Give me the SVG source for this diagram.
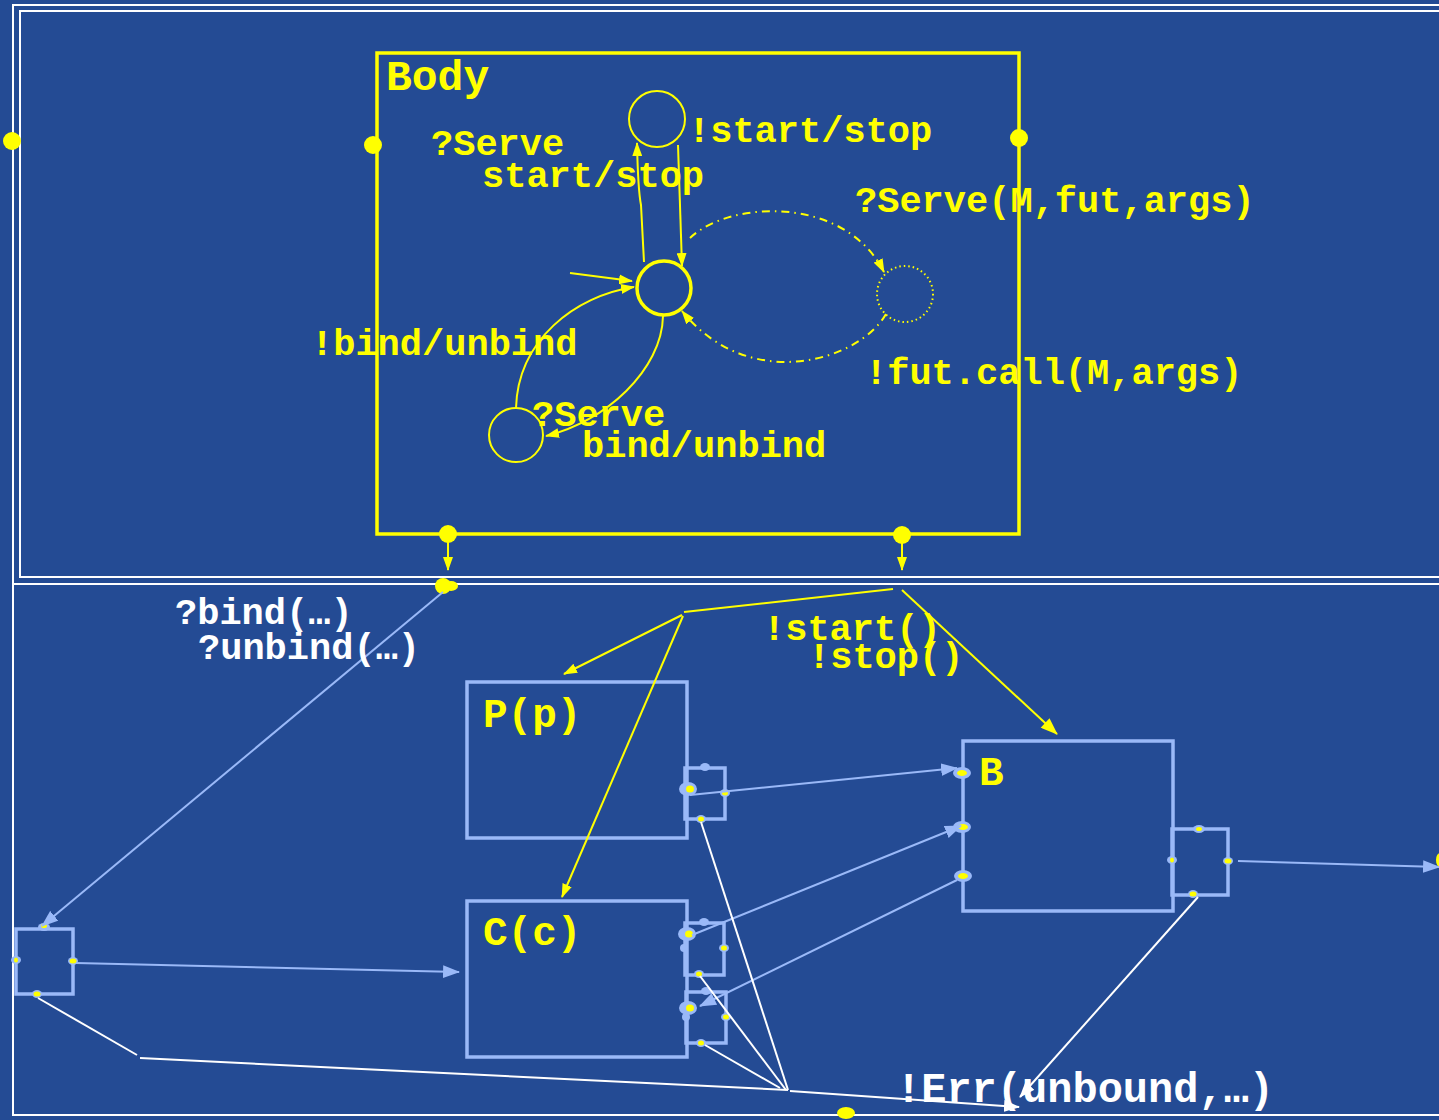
<svg xmlns="http://www.w3.org/2000/svg" width="1439" height="1120" viewBox="0 0 1439 1120">
<defs>
<style>
.t{font-family:"Liberation Mono","Courier New",monospace;font-weight:bold;font-size:37px}
.y{fill:#ffff00}
.w{fill:#ffffff}
.big{font-size:41px}
.frame{fill:none;stroke:#ffffff;stroke-width:2}
.st{fill:none;stroke:#ffff00;stroke-width:2}
.yl{fill:none;stroke:#ffff00;stroke-width:2}
.bl{fill:none;stroke:#9ab9f8;stroke-width:2}
.wl{fill:none;stroke:#ffffff;stroke-width:2}
.box{fill:none;stroke:#9ab9f8;stroke-width:3.5}
.pb{fill:#9ab9f8}
.pi{fill:#ffff00}
.dd{stroke-dasharray:8 5 1.5 5}
</style>
<marker id="ay" viewBox="0 0 14 10" refX="13" refY="5" markerWidth="14" markerHeight="10" markerUnits="userSpaceOnUse" orient="auto"><path d="M0,0 L14,5 L0,10 z" fill="#ffff00"/></marker>
<marker id="ayb" viewBox="0 0 16 12" refX="15" refY="6" markerWidth="18" markerHeight="13" markerUnits="userSpaceOnUse" orient="auto"><path d="M0,0 L16,6 L0,12 z" fill="#ffff00"/></marker>
<marker id="ab" viewBox="0 0 16 12" refX="15" refY="6" markerWidth="17" markerHeight="13" markerUnits="userSpaceOnUse" orient="auto"><path d="M0,0 L16,6 L0,12 z" fill="#9ab9f8"/></marker>
<marker id="aw" viewBox="0 0 16 12" refX="15" refY="6" markerWidth="16" markerHeight="12" markerUnits="userSpaceOnUse" orient="auto"><path d="M0,0 L16,6 L0,12 z" fill="#ffffff"/></marker>
</defs>
<rect x="0" y="0" width="1439" height="1120" fill="#244b94"/>

<g id="frames">
<rect class="frame" x="13" y="5" width="1440" height="579"/>
<rect class="frame" x="20" y="11" width="1440" height="566"/>
<rect class="frame" x="13" y="584" width="1440" height="531"/>
</g>

<g id="body">
<rect x="377" y="53" width="642" height="481" fill="none" stroke="#ffff00" stroke-width="3.5"/>
<text class="t y" x="386" y="90" style="font-size:43px">Body</text>
</g>

<g id="state-top"><circle class="st" cx="657" cy="119" r="28"/></g>
<g id="state-main"><circle cx="664" cy="288" r="27" fill="none" stroke="#ffff00" stroke-width="3.5"/></g>
<g id="state-fut"><circle cx="905" cy="294" r="28" fill="none" stroke="#ffff00" stroke-width="2" stroke-dasharray="1.5 3"/></g>
<g id="state-bind"><circle class="st" cx="516" cy="435" r="27"/></g>

<g id="ports">
<circle cx="12" cy="141" r="9" fill="#ffff00"/>
<circle cx="373" cy="145" r="9" fill="#ffff00"/>
<circle cx="1019" cy="138" r="9" fill="#ffff00"/>
<circle cx="448" cy="534" r="9" fill="#ffff00"/>
<circle cx="902" cy="535" r="9" fill="#ffff00"/>
<circle cx="443" cy="586" r="8" fill="#ffff00"/>
<ellipse cx="451" cy="586" rx="7" ry="5" fill="#ffff00"/>
<ellipse cx="846" cy="1113" rx="9" ry="6" fill="#ffff00"/>
<ellipse cx="1440" cy="860" rx="4" ry="7" fill="#ffff00"/>
</g>

<g id="node-P">
<rect class="box" x="467" y="682" width="220" height="156"/>
<text class="t y big" x="483" y="727">P(p)</text>
<rect class="box" x="685" y="768" width="40" height="51"/>
<ellipse class="pb" cx="688" cy="789" rx="9" ry="7"/><ellipse class="pi" cx="690" cy="789" rx="4" ry="3.5"/>
<ellipse class="pb" cx="705" cy="767" rx="5" ry="4"/>
<ellipse class="pb" cx="725" cy="793" rx="5" ry="4"/><ellipse class="pi" cx="725" cy="793" rx="3" ry="2.5"/>
<ellipse class="pb" cx="701" cy="819" rx="5" ry="4"/><ellipse class="pi" cx="701" cy="819" rx="3" ry="2.5"/>
</g>

<g id="node-C">
<rect class="box" x="467" y="901" width="220" height="156"/>
<text class="t y big" x="483" y="945">C(c)</text>
<rect class="box" x="685" y="923" width="39" height="52"/>
<ellipse class="pb" cx="687" cy="934" rx="9" ry="7"/><ellipse class="pi" cx="689" cy="934" rx="4" ry="3.5"/>
<ellipse class="pb" cx="704" cy="922" rx="5" ry="4"/>
<ellipse class="pb" cx="684" cy="948" rx="4" ry="4"/>
<ellipse class="pb" cx="724" cy="948" rx="5" ry="4"/><ellipse class="pi" cx="724" cy="948" rx="3" ry="2.5"/>
<ellipse class="pb" cx="699" cy="974" rx="5" ry="4"/><ellipse class="pi" cx="699" cy="974" rx="3" ry="2.5"/>
<rect class="box" x="686" y="992" width="40" height="51"/>
<ellipse class="pb" cx="688" cy="1008" rx="9" ry="7"/><ellipse class="pi" cx="690" cy="1008" rx="4" ry="3.5"/>
<ellipse class="pb" cx="706" cy="991" rx="5" ry="4"/>
<ellipse class="pb" cx="686" cy="1017" rx="4" ry="4"/>
<ellipse class="pb" cx="726" cy="1017" rx="5" ry="4"/><ellipse class="pi" cx="726" cy="1017" rx="3" ry="2.5"/>
<ellipse class="pb" cx="701" cy="1043" rx="5" ry="4"/><ellipse class="pi" cx="701" cy="1043" rx="3" ry="2.5"/>
</g>

<g id="node-B">
<rect class="box" x="963" y="741" width="210" height="170"/>
<text class="t y big" x="979" y="785">B</text>
<ellipse class="pb" cx="962" cy="773" rx="9" ry="6"/><ellipse class="pi" cx="962" cy="773" rx="5" ry="3"/>
<ellipse class="pb" cx="962" cy="827" rx="9" ry="6"/><ellipse class="pi" cx="963" cy="827" rx="5" ry="3"/>
<ellipse class="pb" cx="963" cy="876" rx="9" ry="6"/><ellipse class="pi" cx="963" cy="876" rx="5" ry="3"/>
<rect class="box" x="1172" y="829" width="56" height="66"/>
<ellipse class="pb" cx="1199" cy="829" rx="6" ry="4"/><ellipse class="pi" cx="1199" cy="829" rx="3" ry="2"/>
<ellipse class="pb" cx="1172" cy="860" rx="5" ry="4"/><ellipse class="pi" cx="1172" cy="860" rx="2" ry="2.5"/>
<ellipse class="pb" cx="1228" cy="861" rx="5" ry="4"/><ellipse class="pi" cx="1228" cy="861" rx="3.5" ry="2.5"/>
<ellipse class="pb" cx="1193" cy="894" rx="5" ry="4"/><ellipse class="pi" cx="1193" cy="894" rx="3.5" ry="2.5"/>
</g>

<g id="node-left">
<rect class="box" x="16" y="929" width="57" height="65"/>
<ellipse class="pb" cx="44" cy="927" rx="6" ry="4"/><ellipse class="pi" cx="44" cy="926" rx="3" ry="2"/>
<ellipse class="pb" cx="16" cy="960" rx="5" ry="4"/><ellipse class="pi" cx="16" cy="960" rx="2" ry="2.5"/>
<ellipse class="pb" cx="73" cy="961" rx="5" ry="4"/><ellipse class="pi" cx="73" cy="961" rx="3.5" ry="2.5"/>
<ellipse class="pb" cx="37" cy="994" rx="5" ry="4"/><ellipse class="pi" cx="37" cy="994" rx="3.5" ry="2.5"/>
</g>

<g id="connectors">
<path class="st" d="M644,262 L641,205 Q638,190 637,143" marker-end="url(#ay)"/>
<path class="st" d="M678,145 L682,266" marker-end="url(#ay)"/>
<path class="st" d="M570,273 L632,281" marker-end="url(#ay)"/>
<path class="st" d="M516,408 C518,340 575,296 634,287" marker-end="url(#ay)"/>
<path class="st" d="M663,316 C662,370 605,422 546,436" marker-end="url(#ay)"/>
<path class="st dd" d="M690,238 C730,200 845,195 884,272" marker-end="url(#ay)"/>
<path class="st dd" d="M886,314 C860,360 750,395 682,311" marker-end="url(#ay)"/>
<path class="yl" d="M448,541 L448,570" marker-end="url(#ay)"/>
<path class="yl" d="M902,542 L902,570" marker-end="url(#ay)"/>

<path class="yl" d="M893,589 L684,612"/>
<path class="yl" d="M682,615 L564,674" marker-end="url(#ay)"/>
<path class="yl" d="M683,616 L562,897" marker-end="url(#ay)"/>
<path class="yl" d="M902,590 L1057,734" marker-end="url(#ayb)"/>

<path class="bl" d="M443,592 L42,926" marker-end="url(#ab)"/>
<path class="bl" d="M76,963 L459,972" marker-end="url(#ab)"/>
<path class="bl" d="M690,795 L957,768" marker-end="url(#ab)"/>
<path class="bl" d="M692,935 L961,826" marker-end="url(#ab)"/>
<path class="bl" d="M957,880 L700,1006" marker-end="url(#ab)"/>
<path class="bl" d="M1238,861 L1439,867" marker-end="url(#ab)"/>

<path class="wl" d="M701,822 L788,1090"/>
<path class="wl" d="M700,976 L786,1090"/>
<path class="wl" d="M705,1045 L780,1088"/>
<path class="wl" d="M38,998 L137,1055"/>
<path class="wl" d="M140,1058 L788,1090"/>
<path class="wl" d="M790,1091 L1019,1107" marker-end="url(#aw)"/>
<path class="wl" d="M1198,897 L1020,1097" marker-end="url(#aw)"/>
</g>

<g id="labels">
<text class="t y" x="431" y="155">?Serve</text>
<text class="t y" x="482" y="187">start/stop</text>
<text class="t y" x="688" y="142">!start/stop</text>
<text class="t y" x="855" y="212">?Serve(M,fut,args)</text>
<text class="t y" x="865" y="384">!fut.call(M,args)</text>
<text class="t y" x="311" y="355">!bind/unbind</text>
<text class="t y" x="532" y="426">?Serve</text>
<text class="t y" x="582" y="457">bind/unbind</text>
<text class="t w" x="175" y="624">?bind(…)</text>
<text class="t w" x="198" y="659">?unbind(…)</text>
<text class="t y" x="763" y="640">!start()</text>
<text class="t y" x="808" y="668">!stop()</text>
<text class="t w" x="896" y="1102" style="font-size:42px">!Err(unbound,…)</text>
</g>
</svg>
